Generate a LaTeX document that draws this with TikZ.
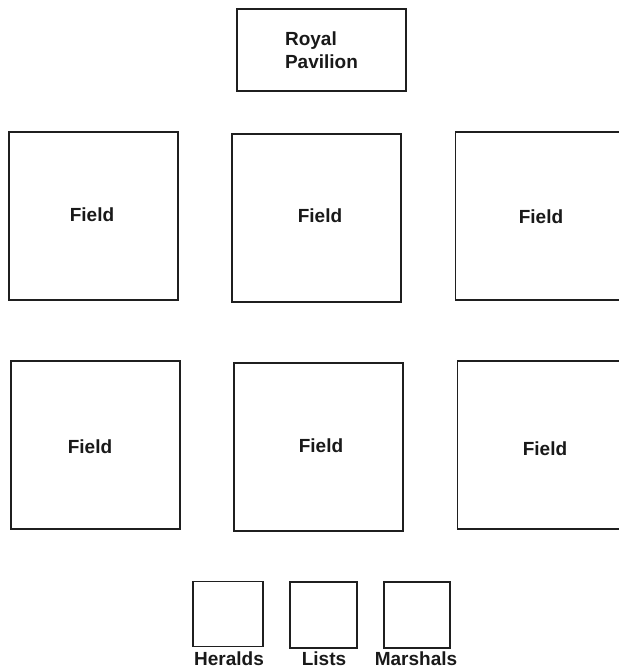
\documentclass[tikz,border=0pt]{standalone}
\usepackage{fontspec}
\setmainfont{Liberation Sans}
\begin{document}
\begin{tikzpicture}[x=1pt,y=-1pt,
  box/.style={draw=black!88, line width=1.7pt, inner sep=0pt, fill=white},
  field/.style={box, minimum width=169pt, minimum height=168pt},
  hut/.style={box, minimum width=68pt, minimum height=65pt},
  lab/.style={font=\fontsize{19}{23}\selectfont\bfseries, text=black!90, inner sep=0pt}]
\useasboundingbox (0,0) rectangle (619,670);
\clip (0,0) rectangle (619,670);
% Royal pavilion
\node[box, minimum width=169pt, minimum height=82pt] (rp) at (321.5,50) {};
\node[lab, align=left] (rpt) at (rp.center) {Royal\\Pavilion};
% first row of fields
\node[field] (f1) at (93.5,216) {};
\node[field] (f2) at (316.5,218) {};
\node[field] (f3) at (540,216) {};
% second row of fields
\node[field] (f4) at (95.5,445) {};
\node[field] (f5) at (318.5,447) {};
\node[field] (f6) at (542,445) {};
\node[lab] (t1) at (92,215) {Field};
\node[lab] (t2) at (320,216) {Field};
\node[lab] (t3) at (541,217) {Field};
\node[lab] (t4) at (90,447) {Field};
\node[lab] (t5) at (321,446) {Field};
\node[lab] (t6) at (545,449) {Field};
% small huts
\node[hut, minimum width=70pt] (h1) at (228,614) {};
\node[hut, minimum width=67pt, minimum height=66pt] (h2) at (323.5,615) {};
\node[hut, minimum width=66pt, minimum height=66pt] (h3) at (417,615) {};
\node[lab, anchor=base] (l1) at (229,665) {Heralds};
\node[lab, anchor=base] (l2) at (324,665) {Lists};
\node[lab, anchor=base] (l3) at (416,665) {Marshals};
\end{tikzpicture}
\end{document}
